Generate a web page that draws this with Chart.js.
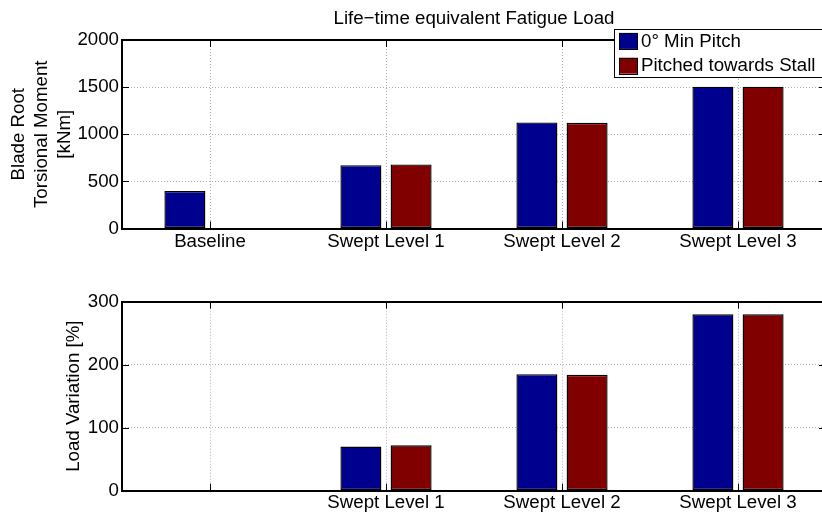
<!DOCTYPE html>
<html>
<head>
<meta charset="utf-8">
<title>Life−time equivalent Fatigue Load</title>
<script src="https://cdn.jsdelivr.net/npm/chart.js@4/dist/chart.umd.min.js"></script>
<style>
  html, body { margin: 0; padding: 0; background: #fff; overflow: hidden; width: 822px; height: 513px; }
  canvas { position: absolute; left: 0; }
  #moment { top: 0; }
  #variation { top: 260px; }
</style>
</head>
<body>
<canvas id="moment" width="830" height="260"></canvas>
<canvas id="variation" width="830" height="253"></canvas>
<script>
// Rotor blade configurations
const categories = ['Baseline', 'Swept Level 1', 'Swept Level 2', 'Swept Level 3'];
const lowerTickLabels = ['', 'Swept Level 1', 'Swept Level 2', 'Swept Level 3'];
const seriesNames = ['0° Min Pitch', 'Pitched towards Stall'];

// Life-time equivalent blade root torsional moment [kNm]
const momentMinPitch = [397, 672, 1125, 1505];
const momentStall = [0, 680, 1121, 1505];

// Load variation relative to baseline [%]
const variationMinPitch = [0, 70, 185, 280];
const variationStall = [0, 72, 184, 280];

const momentTicks = [0, 500, 1000, 1500, 2000];
const variationTicks = [0, 100, 200, 300];

const FONT = "'Liberation Sans', Arial, Helvetica, sans-serif";
const FS = 18.7;
const BLUE = '#00008f';
const RED = '#800000';
const GRID = '#b0b0b0';

Chart.defaults.font.family = FONT;
Chart.defaults.font.size = FS;
Chart.defaults.color = '#000';

// Axes box with inward tick marks on all four sides
const axesFrame = {
  id: 'axesFrame',
  afterDatasetsDraw(chart) {
    const { ctx, chartArea: a, scales: { x, y } } = chart;
    const t = 7;
    ctx.save();
    ctx.strokeStyle = '#000';
    ctx.lineWidth = 1;
    ctx.beginPath();
    x.ticks.forEach((_, i) => {
      const px = Math.round(x.getPixelForTick(i)) + 0.5;
      ctx.moveTo(px, a.bottom); ctx.lineTo(px, a.bottom - t);
      ctx.moveTo(px, a.top); ctx.lineTo(px, a.top + t);
    });
    y.ticks.forEach((_, i) => {
      const py = Math.round(y.getPixelForTick(i)) + 0.5;
      ctx.moveTo(a.left, py); ctx.lineTo(a.left + t, py);
      ctx.moveTo(a.right, py); ctx.lineTo(a.right - t, py);
    });
    ctx.stroke();
    ctx.lineWidth = 2;
    ctx.strokeRect(Math.round(a.left), Math.round(a.top), Math.round(a.right - a.left), Math.round(a.bottom - a.top));
    ctx.restore();
  }
};

// Boxed legend in the upper right corner of the axes
const boxLegend = {
  id: 'boxLegend',
  afterDraw(chart) {
    const { ctx, chartArea: a } = chart;
    const w = 210, h = 48.4;
    const left = a.right - 212, top = a.top - 10.7;
    ctx.save();
    ctx.fillStyle = '#fff';
    ctx.fillRect(left, top, w, h);
    ctx.strokeStyle = '#000';
    ctx.lineWidth = 1;
    ctx.strokeRect(Math.round(left) + 0.5, Math.round(top) + 0.5, w, Math.round(h));
    ctx.font = FS + 'px ' + FONT;
    ctx.textBaseline = 'middle';
    ctx.textAlign = 'left';
    chart.data.datasets.forEach((ds, i) => {
      const cy = top + 11.6 + i * 24.8;
      ctx.fillStyle = ds.backgroundColor;
      ctx.fillRect(left + 5, cy - 8, 18.7, 16);
      ctx.strokeRect(Math.round(left + 5) + 0.5, Math.round(cy - 8) + 0.5, 18, 16);
      ctx.fillStyle = '#000';
      ctx.fillText(ds.label, left + 27, cy + 0.5);
    });
    ctx.restore();
  }
};

function barSet(label, data, color) {
  return {
    label, data,
    backgroundColor: color,
    borderColor: '#000',
    borderWidth: 1.4,
    borderSkipped: false,
    categoryPercentage: 0.5705,
    barPercentage: 0.8167
  };
}

function xScale(labelPad, height, labels) {
  return {
    type: 'category',
    offset: true,
    grid: { offset: false, color: GRID, lineWidth: 1, drawTicks: false },
    border: { display: false, dash: [1, 2] },
    ticks: {
      padding: labelPad, maxRotation: 0, autoSkip: false, color: '#000',
      callback: (v, i) => labels[i]
    },
    afterFit: s => { s.height = height; }
  };
}

function yScale(tickValues, title, titlePad) {
  return {
    min: tickValues[0],
    max: tickValues[tickValues.length - 1],
    afterBuildTicks: s => { s.ticks = tickValues.map(v => ({ value: v })); },
    grid: { color: GRID, lineWidth: 1, drawTicks: false },
    border: { display: false, dash: [1, 2] },
    ticks: { padding: 3, color: '#000', callback: v => String(v) },
    title: {
      display: true, text: title, color: '#000',
      font: { size: FS, lineHeight: 1.23 },
      padding: { top: titlePad, bottom: 0 }
    },
    afterFit: s => { s.width = 122; }
  };
}

new Chart(document.getElementById('moment'), {
  type: 'bar',
  data: {
    labels: categories,
    datasets: [
      barSet(seriesNames[0], momentMinPitch, BLUE),
      barSet(seriesNames[1], momentStall, RED)
    ]
  },
  options: {
    responsive: false,
    animation: false,
    layout: { padding: { left: 0, right: 4, top: 0, bottom: 0 } },
    plugins: {
      legend: { display: false },
      tooltip: { enabled: false },
      title: {
        display: true,
        text: 'Life−time equivalent Fatigue Load',
        fullSize: false,
        color: '#000',
        font: { size: FS, weight: 'normal' },
        padding: { top: 7.5, bottom: 10.06 }
      }
    },
    scales: {
      x: xScale(2.1, 31.5, categories),
      y: yScale(momentTicks, ['Blade Root', 'Torsional Moment', '[kNm]'], 7.3)
    }
  },
  plugins: [axesFrame, boxLegend]
});

new Chart(document.getElementById('variation'), {
  type: 'bar',
  data: {
    labels: categories,
    datasets: [
      barSet(seriesNames[0], variationMinPitch, BLUE),
      barSet(seriesNames[1], variationStall, RED)
    ]
  },
  options: {
    responsive: false,
    animation: false,
    layout: { padding: { left: 0, right: 4, top: 41.7, bottom: 0 } },
    plugins: {
      legend: { display: false },
      tooltip: { enabled: false }
    },
    scales: {
      x: xScale(0.9, 22.3, lowerTickLabels),
      y: yScale(variationTicks, 'Load Variation [%]', 62.5)
    }
  },
  plugins: [axesFrame]
});
</script>
</body>
</html>
